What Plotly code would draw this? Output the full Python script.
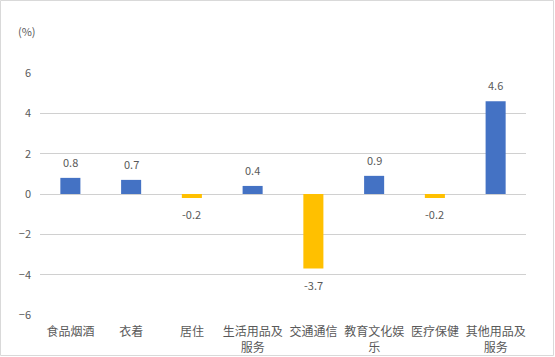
import plotly.graph_objects as go

categories = ["食品烟酒", "衣着", "居住", "生活用品及<br>服务", "交通通信", "教育文化娱<br>乐", "医疗保健", "其他用品及<br>服务"]
values = [0.8, 0.7, -0.2, 0.4, -3.7, 0.9, -0.2, 4.6]
labels = ["0.8", "0.7", "-0.2", "0.4", "-3.7", "0.9", "-0.2", "4.6"]
tick_vals = [-6, -4, -2, 0, 2, 4, 6]

colors = ["#4472C4" if v >= 0 else "#FFC000" for v in values]

fig = go.Figure()
fig.add_trace(go.Bar(
    x=categories, y=values, width=0.33,
    marker=dict(color=colors, line=dict(width=0)),
    cliponaxis=False,
))

W, H = 555, 357
ml, mr, mt, mb = 40, 29, 73, 42
pw, ph = W - ml - mr, H - mt - mb

annots = []
for c, v, t in zip(categories, values, labels):
    annots.append(dict(x=c, y=v, text=t, showarrow=False, xanchor="center",
                       yanchor="bottom" if v >= 0 else "top",
                       yshift=6 if v >= 0 else -6,
                       font=dict(size=11, color="#595959")))
annots.append(dict(text="(%)", xref="paper", yref="paper", xanchor="center", yanchor="middle",
                   x=(27 - ml) / pw, y=(H - mb - 31) / ph, showarrow=False,
                   font=dict(size=11, color="#595959")))

fig.update_layout(
    width=W, height=H,
    margin=dict(l=ml, r=mr, t=mt, b=mb, autoexpand=False),
    paper_bgcolor="white", plot_bgcolor="white",
    font=dict(family="Noto Sans CJK SC, sans-serif", size=11, color="#595959"),
    showlegend=False,
    xaxis=dict(showgrid=False, showline=False, zeroline=False, ticks="",
               ticklabelstandoff=8, automargin=False,
               tickfont=dict(size=12, color="#595959")),
    yaxis=dict(range=[-6, 6], tickvals=tick_vals, showgrid=True, gridcolor="#D0D0D0",
               gridwidth=1, zeroline=True, zerolinecolor="#D0D0D0", zerolinewidth=1,
               showline=False, ticks="", ticklabelstandoff=8, automargin=False,
               tickfont=dict(size=11, color="#595959")),
    annotations=annots,
    shapes=[dict(type="rect", xref="paper", yref="paper",
                 x0=(0.5 - ml) / pw, x1=(W - 1.5 - ml) / pw,
                 y0=(H - mb - (H - 1.5)) / ph, y1=(H - mb - 0.5) / ph,
                 line=dict(color="#D9D9D9", width=1), fillcolor="rgba(0,0,0,0)")],
)

fig.write_html("out.html", config={"displayModeBar": False},
               post_script="document.body.style.margin='0';document.body.style.overflow='hidden';")
